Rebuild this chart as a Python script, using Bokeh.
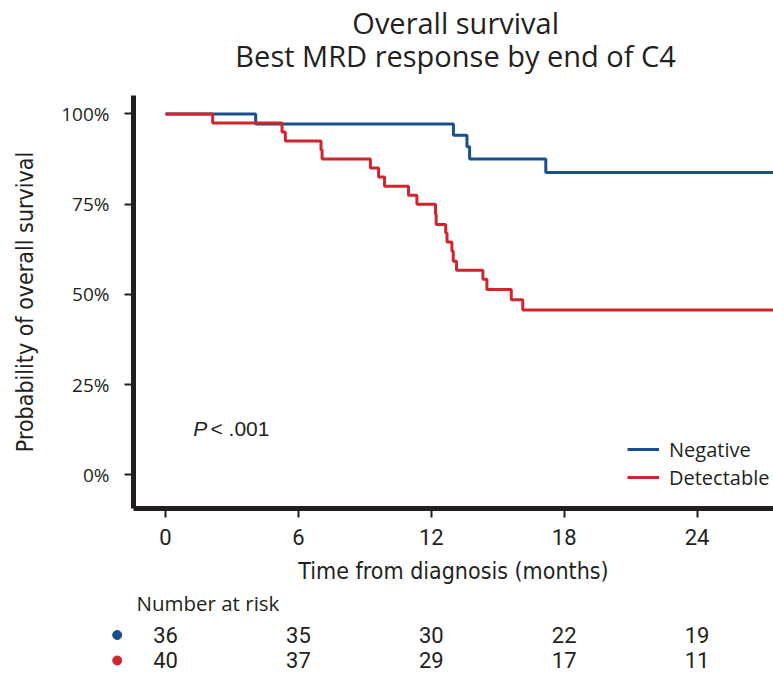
from bokeh.plotting import figure
from bokeh.layouts import column, row
from bokeh.models import (Range1d, FixedTicker, PrintfTickFormatter, Label,
                          ColumnDataSource, Legend, LegendItem)
from bokeh.core.properties import value
from bokeh.embed import file_html
from bokeh.resources import INLINE

# ---- data ----
neg_time = [0, 4.07, 13.00, 13.61, 13.73, 17.17, 27.5]
neg_surv = [100, 97.2, 94.1, 90.9, 87.5, 83.8, 83.8]

det_time = [0, 2.13, 5.26, 5.41, 7.02, 7.07, 9.25, 9.62, 9.89, 10.97, 11.35,
            12.19, 12.22, 12.65, 12.71, 12.93, 12.99, 13.14, 14.33, 14.51,
            15.61, 16.13, 27.5]
det_surv = [100, 97.5, 95.0, 92.5, 90.0, 87.5, 85.0, 82.5, 80.0, 77.5, 75.0,
            72.2, 69.4, 67.0, 64.5, 62.0, 59.2, 56.7, 54.2, 51.4,
            48.5, 45.7, 45.7]

risk_times = [0, 6, 12, 18, 24]
risk_neg = [36, 35, 30, 22, 19]
risk_det = [40, 37, 29, 17, 11]
y_ticks = [0, 25, 50, 75, 100]
group_names = ["Negative", "Detectable"]
title_lines = ["Overall survival", "Best MRD response by end of C4"]

BLUE = "#17508c"
RED = "#d0242f"
INK = "#231f20"
W = 773
X0, X1 = -1.445, 27.45          # months shown across the plot frame
PX_PER_MONTH = 22.15
LEFT_MONTH = -165 / PX_PER_MONTH  # month at the page's left edge


def bare(width, height, xr, yr):
    f = figure(width=width, height=height, x_range=xr, y_range=yr,
               x_axis_type=None, y_axis_type=None, output_backend="svg",
               toolbar_location=None, min_border=0, min_border_left=0,
               min_border_right=0, min_border_top=0, min_border_bottom=0,
               title=None)
    f.outline_line_color = None
    f.xgrid.visible = False
    f.ygrid.visible = False
    return f


# ---- title strip ----
pt = bare(W, 95, Range1d(LEFT_MONTH, X1), Range1d(95, 0))
for txt, yb in zip(title_lines, (21.5, 55)):
    pt.add_layout(Label(x=13.1, y=yb, text=txt, text_align="center",
                        text_baseline="alphabetic", text_font="Open Sans",
                        text_font_size="29px", text_color=INK))

# ---- main plot ----
p = figure(width=W, height=495, title=None,
           x_range=Range1d(X0, X1), y_range=Range1d(-9.28, 105.1),
           output_backend="svg", toolbar_location=None,
           min_border_left=133, min_border_right=0,
           min_border_top=0, min_border_bottom=82)
p.outline_line_color = None
p.xgrid.visible = False
p.ygrid.visible = False

r_neg = p.step(neg_time, neg_surv, mode="after", line_color=BLUE, line_width=3)
r_det = p.step(det_time, det_surv, mode="after", line_color=RED, line_width=3)

for ax in (p.xaxis[0], p.yaxis[0]):
    ax.axis_line_width = 5
    ax.axis_line_color = INK
    ax.major_tick_line_width = 2
    ax.major_tick_line_color = INK
    ax.major_tick_out = 9
    ax.major_tick_in = 0
    ax.minor_tick_out = 0
    ax.minor_tick_in = 0
    ax.major_label_text_color = INK
    ax.axis_label_text_color = INK
    ax.axis_label_text_font_style = "normal"
    ax.axis_label_text_font = "DejaVu Sans Condensed"
    ax.axis_label_text_font_size = "23px"

xa = p.xaxis[0]
xa.ticker = FixedTicker(ticks=risk_times)
xa.major_label_text_font = "Roboto"
xa.major_label_text_font_size = "22px"
xa.major_label_standoff = 11
xa.axis_label = "Time from diagnosis (months)"
xa.axis_label_standoff = 10

ya = p.yaxis[0]
ya.ticker = FixedTicker(ticks=y_ticks)
ya.formatter = PrintfTickFormatter(format="%d%%")
ya.major_label_text_font = "Open Sans"
ya.major_label_text_font_size = "19px"
ya.major_label_standoff = 15
ya.axis_label = "Probability of overall survival"
ya.axis_label_standoff = 20

legend = Legend(items=[LegendItem(label=group_names[0], renderers=[r_neg]),
                       LegendItem(label=group_names[1], renderers=[r_det])],
                location=(494, 17), padding=0, margin=0, spacing=0,
                glyph_width=32, glyph_height=28, label_height=28,
                label_standoff=10, border_line_color=None,
                background_fill_alpha=0,
                label_text_font="Open Sans", label_text_font_size="20px",
                label_text_color=INK)
p.add_layout(legend)

p.add_layout(Label(x=1.25, y=12.8, text="P", text_baseline="alphabetic",
                   text_font="Liberation Sans", text_font_style="italic",
                   text_font_size="21px", text_color=INK))
p.add_layout(Label(x=2.03, y=12.8, text="< .001", text_baseline="alphabetic",
                   text_font="Liberation Sans", text_font_size="21px", text_color=INK))

# ---- number-at-risk strip: colour dots (left of the axis) + counts ----
pd_ = bare(133, 83, Range1d(LEFT_MONTH, X0), Range1d(83, 0))
pd_.scatter(x=[-2.18, -2.18], y=[44.5, 70], size=9, marker="circle",
            fill_color=[BLUE, RED], line_color=[BLUE, RED])

pr = bare(W - 133, 83, Range1d(X0, X1), Range1d(83, 0))
pr.add_layout(Label(x=-1.31, y=12, text="Number at risk", text_baseline="alphabetic",
                    text_font="Open Sans", text_font_size="20.5px", text_color=INK))
for counts, yb in ((risk_neg, 44), (risk_det, 69.5)):
    src = ColumnDataSource(dict(x=risk_times, t=[str(v) for v in counts],
                                y=[yb] * len(counts)))
    pr.text(x="x", y="y", text="t", source=src, text_align="center",
            text_baseline="alphabetic", text_font=value("Roboto"),
            text_font_size="22px", text_color=INK)

layout = column(row(pt, spacing=0), p, row(pd_, pr, spacing=0), spacing=0)
open("out.html", "w").write(file_html(layout, INLINE))
